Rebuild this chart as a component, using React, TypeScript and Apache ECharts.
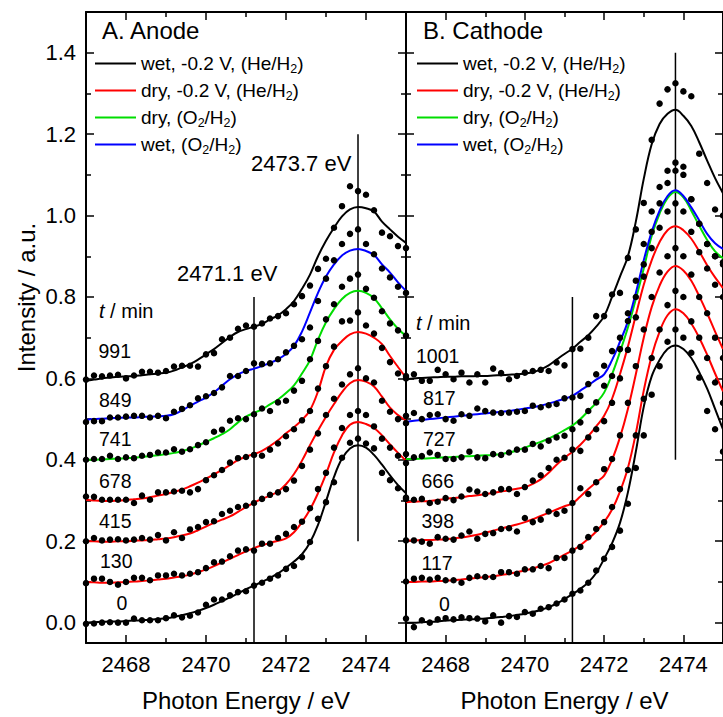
import React, { useEffect, useRef } from 'react';
import * as echarts from 'echarts';

const FONT = 'Liberation Sans, Arial, Helvetica, sans-serif';

const energies = [2467.0,2467.2,2467.4,2467.6,2467.8,2468.0,2468.2,2468.4,2468.6,2468.8,2469.0,2469.2,2469.4,2469.6,2469.8,2470.0,2470.2,2470.4,2470.6,2470.8,2471.0,2471.2,2471.4,2471.6,2471.8,2472.0,2472.2,2472.4,2472.6,2472.8,2473.0,2473.2,2473.4,2473.6,2473.8,2474.0,2474.2,2474.4,2474.6,2474.8,2475.0];

const offsets = [0, 0.1, 0.2, 0.3, 0.4, 0.5, 0.6];

const conditions = ['wet, -0.2 V, (He/H2)', 'dry, -0.2 V, (He/H2)', 'dry, (O2/H2)', 'wet, (O2/H2)'];
const conditionsRich = [
  '{t|wet, -0.2 V, (He/H}{s|2}{t|)}',
  '{t|dry, -0.2 V, (He/H}{s|2}{t|)}',
  '{t|dry, (O}{s|2}{t|/H}{s|2}{t|)}',
  '{t|wet, (O}{s|2}{t|/H}{s|2}{t|)}',
];
const conditionColors = ['#000000', '#ff0000', '#00dd00', '#0000ff'];

const anodeTimes = ['0', '130', '415', '678', '741', '849', '991'];
const cathodeTimes = ['0', '117', '398', '666', '727', '817', '1001'];
const curveCondition = [0, 1, 1, 1, 2, 3, 0];

const xTickValues = [2468, 2470, 2472, 2474];
const xMinorValues = [2467, 2469, 2471, 2473, 2475];
const yTickValues = [0, 0.2, 0.4, 0.6, 0.8, 1.0, 1.2, 1.4];
const yMinorValues = [0.1, 0.3, 0.5, 0.7, 0.9, 1.1, 1.3];

// Anode fitted curves (value above each curve's offset)
const a0Fit = [0.000,0.001,0.002,0.003,0.003, 0.004,0.005,0.006,0.007,0.009, 0.011,0.014,0.018,0.023,0.029, 0.036,0.044,0.053,0.062,0.072, 0.082,0.091,0.100,0.110,0.121, 0.135,0.150,0.168,0.197,0.240, 0.298,0.358,0.403,0.428,0.436, 0.430,0.412,0.388,0.362,0.338,0.318];
const a130Fit = [0.000,-0.001,-0.002,-0.002,-0.001, 0.000,0.001,0.002,0.004,0.006, 0.008,0.011,0.014,0.018,0.024, 0.031,0.039,0.048,0.057,0.066, 0.075,0.083,0.090,0.096,0.101, 0.107,0.122,0.147,0.178,0.218, 0.265,0.318,0.360,0.386,0.393, 0.388,0.378,0.360,0.338,0.317,0.298];
const a415Fit = [0.000,0.000,-0.001,-0.001,0.000, 0.000,0.001,0.002,0.003,0.005, 0.007,0.010,0.014,0.019,0.027, 0.036,0.045,0.053,0.061,0.072, 0.084,0.095,0.104,0.112,0.122, 0.140,0.165,0.198,0.236,0.272, 0.306,0.337,0.366,0.388,0.396, 0.392,0.380,0.355,0.328,0.310,0.296];
const a678Fit = [0.002,0.000,-0.001,-0.001,0.000, 0.001,0.003,0.005,0.008,0.012, 0.016,0.021,0.027,0.035,0.044, 0.054,0.064,0.075,0.087,0.099, 0.108,0.114,0.122,0.134,0.148, 0.165,0.180,0.198,0.222,0.268, 0.330,0.370,0.392,0.408,0.414, 0.410,0.400,0.384,0.355,0.328,0.302];
const a741Fit = [0.000,0.000,0.001,0.002,0.003, 0.004,0.005,0.007,0.009,0.011, 0.014,0.017,0.021,0.027,0.035, 0.044,0.053,0.063,0.075,0.092, 0.106,0.115,0.124,0.136,0.148, 0.164,0.183,0.212,0.245,0.295, 0.338,0.370,0.395,0.410,0.415, 0.410,0.397,0.372,0.345,0.322,0.304];
const a849Fit = [-0.002,0.000,0.001,0.002,0.003, 0.004,0.004,0.005,0.006,0.007, 0.008,0.012,0.021,0.033,0.043, 0.053,0.066,0.082,0.098,0.110, 0.118,0.124,0.130,0.138,0.147, 0.160,0.180,0.215,0.262,0.310, 0.350,0.380,0.402,0.414,0.418, 0.413,0.403,0.380,0.360,0.336,0.315];
const a991Fit = [-0.006,-0.003,0.000,0.002,0.004, 0.005,0.006,0.008,0.010,0.012, 0.014,0.019,0.027,0.035,0.046, 0.059,0.072,0.087,0.102,0.114, 0.121,0.127,0.134,0.145,0.155, 0.170,0.190,0.220,0.255,0.300, 0.338,0.370,0.398,0.415,0.421, 0.418,0.410,0.385,0.366,0.348,0.333];

// Anode measured points
const a0Dots = [-0.003,-0.002,0.000,0.001,0.000, 0.000,0.010,0.006,0.006,0.006, 0.011,0.018,0.013,0.017,0.025, 0.044,0.057,0.057,0.067,0.075, 0.077,0.091,0.098,0.108,0.116, 0.132,0.139,0.161,0.198,0.255, 0.296,0.345,0.405,0.442,0.452, 0.440,0.428,0.368,0.350,0.330,0.307];
const a130Dots = [-0.003,0.008,0.008,0.000,-0.007, 0.000,0.010,0.010,0.004,0.016, 0.016,0.020,0.016,0.020,0.024, 0.034,0.048,0.050,0.063,0.077, 0.080,0.077,0.094,0.094,0.108, 0.118,0.135,0.148,0.181,0.228, 0.268,0.330,0.378,0.410,0.420, 0.410,0.382,0.352,0.330,0.310,0.292];
const a415Dots = [0.000,0.008,0.002,0.004,0.005, 0.002,0.004,0.008,0.004,0.015, 0.002,0.022,0.008,0.029,0.035, 0.047,0.049,0.067,0.075,0.084, 0.087,0.094,0.104,0.114,0.120, 0.128,0.149,0.185,0.225,0.265, 0.310,0.350,0.385,0.410,0.425, 0.400,0.390,0.345,0.318,0.300,0.290];
const a678Dots = [0.010,0.009,0.002,0.002,0.002, 0.002,-0.006,0.012,0.002,0.020, 0.020,0.022,0.024,0.020,0.028, 0.050,0.062,0.075,0.093,0.104, 0.107,0.112,0.110,0.125,0.140, 0.158,0.175,0.197,0.220,0.275, 0.330,0.378,0.440,0.442,0.462, 0.430,0.410,0.375,0.340,0.312,0.300];
const a741Dots = [0.000,0.002,0.002,0.010,0.002, 0.006,0.004,0.010,0.012,0.018, 0.018,0.026,0.020,0.026,0.036, 0.043,0.069,0.074,0.096,0.102, 0.100,0.112,0.126,0.120,0.141, 0.145,0.170,0.194,0.247,0.292, 0.345,0.382,0.425,0.445,0.455, 0.420,0.398,0.365,0.335,0.318,0.305];
const a849Dots = [-0.007,-0.005,-0.005,0.004,0.004, 0.006,0.008,0.008,0.004,0.008, 0.002,0.018,0.025,0.034,0.051, 0.056,0.064,0.078,0.106,0.106, 0.118,0.137,0.135,0.137,0.147, 0.164,0.180,0.196,0.225,0.290, 0.345,0.390,0.430,0.455,0.466, 0.430,0.405,0.370,0.348,0.325,0.310];
const a991Dots = [-0.003,0.007,0.005,0.007,0.009, 0.000,0.007,0.016,0.016,0.014, 0.018,0.029,0.031,0.031,0.029, 0.059,0.062,0.096,0.100,0.122, 0.130,0.127,0.135,0.147,0.153, 0.160,0.182,0.202,0.228,0.269, 0.294,0.370,0.423,0.472,0.460, 0.451,0.413,0.358,0.349,0.325,0.320];

// Cathode fitted curves
const c0Fit = [0.000,0.000,0.001,0.002,0.003, 0.005,0.006,0.007,0.008,0.009, 0.010,0.012,0.014,0.016,0.019, 0.022,0.026,0.031,0.038,0.047, 0.058,0.070,0.083,0.099,0.122, 0.157,0.195,0.245,0.320,0.420, 0.530,0.605,0.645,0.672,0.681, 0.672,0.650,0.615,0.575,0.525,0.475];
const c117Fit = [0.000,0.000,0.001,0.001,0.002, 0.003,0.004,0.006,0.008,0.010, 0.012,0.014,0.017,0.020,0.024, 0.028,0.033,0.039,0.046,0.056, 0.067,0.077,0.090,0.106,0.124, 0.147,0.178,0.222,0.280,0.365, 0.470,0.555,0.615,0.655,0.670, 0.660,0.635,0.600,0.558,0.512,0.468];
const c398Fit = [0.002,0.002,0.003,0.003,0.004, 0.005,0.007,0.009,0.012,0.016, 0.021,0.026,0.031,0.036,0.041, 0.047,0.054,0.062,0.070,0.078, 0.086,0.093,0.110,0.128,0.145, 0.161,0.200,0.255,0.325,0.410, 0.500,0.575,0.628,0.662,0.676, 0.665,0.640,0.602,0.560,0.515,0.472];
const c666Fit = [-0.004,-0.003,-0.002,-0.001,0.001, 0.004,0.006,0.008,0.011,0.013, 0.016,0.019,0.022,0.025,0.029, 0.033,0.041,0.052,0.068,0.088, 0.105,0.120,0.137,0.158,0.182, 0.208,0.250,0.310,0.378,0.455, 0.530,0.590,0.635,0.664,0.674, 0.664,0.643,0.612,0.578,0.548,0.522];
const c727Fit = [0.002,0.002,0.003,0.004,0.005, 0.006,0.007,0.008,0.009,0.010, 0.011,0.012,0.014,0.018,0.023, 0.030,0.037,0.044,0.052,0.062, 0.073,0.084,0.100,0.120,0.140, 0.165,0.210,0.265,0.325,0.395, 0.470,0.550,0.605,0.643,0.658, 0.645,0.612,0.575,0.540,0.512,0.495];
const c817Fit = [-0.007,-0.004,-0.002,0.000,0.002, 0.004,0.006,0.008,0.010,0.012, 0.014,0.016,0.018,0.020,0.023, 0.026,0.029,0.033,0.038,0.044, 0.050,0.057,0.070,0.083,0.097, 0.110,0.145,0.190,0.240,0.310, 0.390,0.460,0.512,0.548,0.562, 0.548,0.520,0.488,0.455,0.432,0.418];
const c1001Fit = [-0.002,0.000,0.001,0.002,0.003, 0.004,0.004,0.005,0.005,0.006, 0.006,0.007,0.008,0.009,0.010, 0.012,0.015,0.022,0.032,0.046, 0.060,0.073,0.090,0.106,0.127, 0.153,0.200,0.250,0.300,0.385, 0.490,0.575,0.625,0.650,0.660, 0.645,0.620,0.580,0.535,0.492,0.455];

// Cathode measured points
const c0Dots = [0.010,-0.011,0.006,0.000,0.008, 0.011,0.008,0.013,0.011,0.010, 0.003,0.018,0.000,0.016,0.014, 0.026,0.022,0.034,0.038,0.047, 0.057,0.071,0.079,0.098,0.128, 0.157,0.186,0.226,0.292,0.380, 0.460,0.560,0.630,0.690,0.720, 0.700,0.663,0.602,0.520,0.475,0.420];
const c117Dots = [0.001,0.008,0.010,0.006,0.010, 0.004,0.004,-0.002,0.010,0.014, 0.012,0.012,0.024,0.024,0.020, 0.031,0.031,0.039,0.034,0.059, 0.059,0.077,0.086,0.110,0.130, 0.147,0.184,0.228,0.275,0.360, 0.450,0.550,0.620,0.680,0.715, 0.700,0.640,0.600,0.550,0.490,0.440];
const c398Dots = [0.002,0.002,-0.001,-0.006,0.010, 0.006,0.004,0.014,0.024,0.006, 0.018,0.020,0.030,0.032,0.024, 0.057,0.047,0.053,0.073,0.067, 0.075,0.094,0.130,0.116,0.145, 0.177,0.202,0.260,0.340,0.430, 0.520,0.600,0.660,0.700,0.720, 0.700,0.655,0.600,0.560,0.500,0.450];
const c666Dots = [0.004,0.002,0.004,-0.006,-0.003, 0.006,0.001,0.010,0.027,0.022, 0.016,0.020,0.028,0.028,0.016, 0.033,0.049,0.062,0.080,0.100, 0.105,0.125,0.122,0.155,0.175, 0.195,0.240,0.300,0.370,0.450, 0.550,0.620,0.670,0.710,0.730, 0.710,0.660,0.610,0.570,0.530,0.500];
const c727Dots = [0.014,0.006,0.009,0.018,0.012, 0.002,0.002,0.006,0.020,0.006, 0.004,0.014,0.012,0.018,0.025, 0.025,0.039,0.033,0.047,0.055, 0.059,0.075,0.092,0.120,0.141, 0.182,0.206,0.272,0.341,0.400, 0.480,0.560,0.630,0.680,0.710, 0.700,0.640,0.580,0.530,0.500,0.480];
const c817Dots = [0.008,0.015,0.000,0.010,0.012, 0.000,-0.004,0.012,0.008,0.026, 0.020,0.016,0.015,0.016,0.018, 0.020,0.033,0.029,0.034,0.037, 0.051,0.053,0.057,0.086,0.110, 0.131,0.167,0.200,0.260,0.340, 0.430,0.510,0.570,0.610,0.630, 0.620,0.540,0.480,0.430,0.400,0.385];
const c1001Dots = [0.006,0.010,-0.006,-0.006,0.021, 0.010,-0.002,0.014,-0.010,0.010, -0.010,0.024,0.013,-0.002,0.006, 0.014,0.018,0.021,0.018,0.039, 0.032,0.072,0.073,0.100,0.153, 0.153,0.206,0.210,0.296,0.366, 0.431,0.586,0.675,0.710,0.725, 0.705,0.693,0.552,0.480,0.415,0.400];

const anodeFits = [a0Fit, a130Fit, a415Fit, a678Fit, a741Fit, a849Fit, a991Fit];
const anodeDots = [a0Dots, a130Dots, a415Dots, a678Dots, a741Dots, a849Dots, a991Dots];
const cathodeFits = [c0Fit, c117Fit, c398Fit, c666Fit, c727Fit, c817Fit, c1001Fit];
const cathodeDots = [c0Dots, c117Dots, c398Dots, c666Dots, c727Dots, c817Dots, c1001Dots];

// vertical reference lines: energy, [from, to]
const anodeMarkers = [2471.2, 2473.8];
const anodeMarkerRanges = [[-0.05, 0.8], [0.2, 1.2]];
const cathodeMarkers = [2471.2, 2473.8];
const cathodeMarkerRanges = [[-0.05, 0.8], [0.4, 1.4]];

const X_MIN = 2467;
const X_MAX = 2475;
const Y_MIN = -0.05;
const Y_MAX = 1.5;

function xAxes(grid: number) {
  const base = { type: 'value', gridIndex: grid, min: X_MIN, max: X_MAX, splitLine: { show: false } };
  const line = { show: true, onZero: false, lineStyle: { color: '#000', width: 2 } };
  return [
    {
      ...base, position: 'bottom',
      name: 'Photon Energy / eV', nameLocation: 'middle', nameGap: 45,
      nameTextStyle: { fontSize: 24, color: '#000', fontFamily: FONT },
      axisLine: line,
      axisTick: { show: true, inside: true, length: 8, customValues: xTickValues, lineStyle: { color: '#000', width: 1.5 } },
      axisLabel: {
        show: true, customValues: xTickValues, margin: 10, fontSize: 22, color: '#000', fontFamily: FONT,
        formatter: (v: number) => String(Math.round(v)),
      },
    },
    {
      ...base, position: 'bottom',
      axisLine: { show: false, onZero: false },
      axisTick: { show: true, inside: true, length: 5, customValues: xMinorValues, lineStyle: { color: '#000', width: 1.5 } },
      axisLabel: { show: false },
    },
    {
      ...base, position: 'top',
      axisLine: line,
      axisTick: { show: true, inside: true, length: 8, customValues: xTickValues, lineStyle: { color: '#000', width: 1.5 } },
      axisLabel: { show: false },
    },
    {
      ...base, position: 'top',
      axisLine: { show: false, onZero: false },
      axisTick: { show: true, inside: true, length: 5, customValues: xMinorValues, lineStyle: { color: '#000', width: 1.5 } },
      axisLabel: { show: false },
    },
  ];
}

function yAxes(grid: number, labels: boolean) {
  const base = { type: 'value', gridIndex: grid, min: Y_MIN, max: Y_MAX, splitLine: { show: false } };
  const line = { show: true, onZero: false, lineStyle: { color: '#000', width: 2 } };
  return [
    {
      ...base, position: 'left',
      axisLine: line,
      axisTick: { show: true, inside: true, length: 8, customValues: yTickValues, lineStyle: { color: '#000', width: 1.5 } },
      axisLabel: {
        show: labels, customValues: yTickValues, margin: 10, fontSize: 22, color: '#000', fontFamily: FONT,
        formatter: (v: number) => v.toFixed(1),
      },
    },
    {
      ...base, position: 'left',
      axisLine: { show: false, onZero: false },
      axisTick: { show: true, inside: true, length: 5, customValues: yMinorValues, lineStyle: { color: '#000', width: 1.5 } },
      axisLabel: { show: false },
    },
    {
      ...base, position: 'right',
      axisLine: line,
      axisTick: { show: true, inside: true, length: 8, customValues: yTickValues, lineStyle: { color: '#000', width: 1.5 } },
      axisLabel: { show: false },
    },
    {
      ...base, position: 'right',
      axisLine: { show: false, onZero: false },
      axisTick: { show: true, inside: true, length: 5, customValues: yMinorValues, lineStyle: { color: '#000', width: 1.5 } },
      axisLabel: { show: false },
    },
  ];
}

function panelSeries(prefix: string, times: string[], fits: number[][], dots: number[][], markers: number[], ranges: number[][], axisIdx: number) {
  const out: any[] = [];
  markers.forEach((e, i) => {
    out.push({
      type: 'line', name: `${prefix} marker ${e}`, xAxisIndex: axisIdx, yAxisIndex: axisIdx,
      data: [[e, ranges[i][0]], [e, ranges[i][1]]],
      symbol: 'none', lineStyle: { color: '#000', width: 1.5 }, itemStyle: { color: '#000' },
      silent: true, z: 2,
    });
  });
  fits.forEach((fit, i) => {
    const c = conditionColors[curveCondition[i]];
    out.push({
      type: 'line', name: conditions[curveCondition[i]], xAxisIndex: axisIdx, yAxisIndex: axisIdx,
      data: energies.map((e, k) => [e, fit[k] + offsets[i]]),
      symbol: 'none', showSymbol: false, smooth: 0.4,
      color: c, lineStyle: { color: c, width: 2 }, itemStyle: { color: c }, z: 3,
    });
  });
  dots.forEach((d, i) => {
    out.push({
      type: 'scatter', name: `${prefix} t = ${times[i]} min`, xAxisIndex: axisIdx, yAxisIndex: axisIdx,
      data: energies.map((e, k) => [e, d[k] + offsets[i]]),
      symbol: 'circle', symbolSize: 6.5, itemStyle: { color: '#000', opacity: 1 }, z: 4,
    });
  });
  return out;
}

function legendFor(left: number) {
  return {
    left, top: 52, orient: 'vertical', padding: 0,
    data: conditions, icon: 'rect', itemWidth: 41, itemHeight: 2, itemGap: 4,
    selectedMode: false,
    formatter: (name: string) => conditionsRich[conditions.indexOf(name)],
    textStyle: {
      fontFamily: FONT, color: '#000', fontSize: 19, lineHeight: 23,
      rich: {
        t: { fontSize: 19, lineHeight: 23, color: '#000', fontFamily: FONT },
        s: { fontSize: 12.5, lineHeight: 10, verticalAlign: 'bottom', color: '#000', fontFamily: FONT },
      },
    },
  };
}

function label(text: string, x: number, y: number, size: number, rich?: any, align = 'left') {
  return {
    type: 'text', x, y,
    style: { text, fontSize: size, fontFamily: FONT, fill: '#000', textAlign: align, textVerticalAlign: 'middle', rich },
    silent: true, z: 10,
  };
}

const italicT = { i: { fontStyle: 'italic', fontSize: 20, fontFamily: FONT, fill: '#000' } };

export default function App() {
  const ref = useRef<HTMLDivElement>(null);
  useEffect(() => {
    if (!ref.current) return;
    const chart = echarts.init(ref.current, undefined, { renderer: 'svg' });
    const option: any = {
      animation: false,
      backgroundColor: '#ffffff',
      textStyle: { fontFamily: FONT },
      grid: [
        { left: 86, top: 12, width: 320, height: 632, containLabel: false },
        { left: 406, top: 12, width: 320, height: 632, containLabel: false },
      ],
      xAxis: [...xAxes(0), ...xAxes(1)],
      yAxis: [...yAxes(0, true), ...yAxes(1, false)],
      legend: [legendFor(95), legendFor(417)],
      series: [
        ...panelSeries('Anode', anodeTimes, anodeFits, anodeDots, anodeMarkers, anodeMarkerRanges, 0),
        ...panelSeries('Cathode', cathodeTimes, cathodeFits, cathodeDots, cathodeMarkers, cathodeMarkerRanges, 4),
      ],
      graphic: [
        label('A. Anode', 102, 30, 24),
        label('B. Cathode', 423, 30, 24),
        label('2473.7 eV', 251, 163, 22),
        label('2471.1 eV', 177, 273, 22),
        label('{i|t} / min', 99, 311, 20, italicT),
        label('{i|t} / min', 416, 323, 20, italicT),
        label(anodeTimes[6], 98.5, 351, 19.5),
        label(anodeTimes[5], 99, 400, 19.5),
        label(anodeTimes[4], 99, 439, 19.5),
        label(anodeTimes[3], 99, 481, 19.5),
        label(anodeTimes[2], 99, 521, 19.5),
        label(anodeTimes[1], 100, 561, 19.5),
        label(anodeTimes[0], 116.5, 603, 19.5),
        label(cathodeTimes[6], 416, 356, 19.5),
        label(cathodeTimes[5], 423, 398, 19.5),
        label(cathodeTimes[4], 423, 439, 19.5),
        label(cathodeTimes[3], 421.5, 481, 19.5),
        label(cathodeTimes[2], 421.5, 521, 19.5),
        label(cathodeTimes[1], 421.5, 563, 19.5),
        label(cathodeTimes[0], 439, 604, 19.5),
        {
          type: 'text', x: 26, y: 297.5, rotation: Math.PI / 2,
          style: { text: 'Intensity / a.u.', fontSize: 24, fontFamily: FONT, fill: '#000', textAlign: 'center', textVerticalAlign: 'middle' },
          silent: true,
        },
      ],
    };
    chart.setOption(option);
    return () => chart.dispose();
  }, []);
  return <div ref={ref} style={{ position: 'fixed', left: 0, top: 0, width: 723, height: 717 }} />;
}
